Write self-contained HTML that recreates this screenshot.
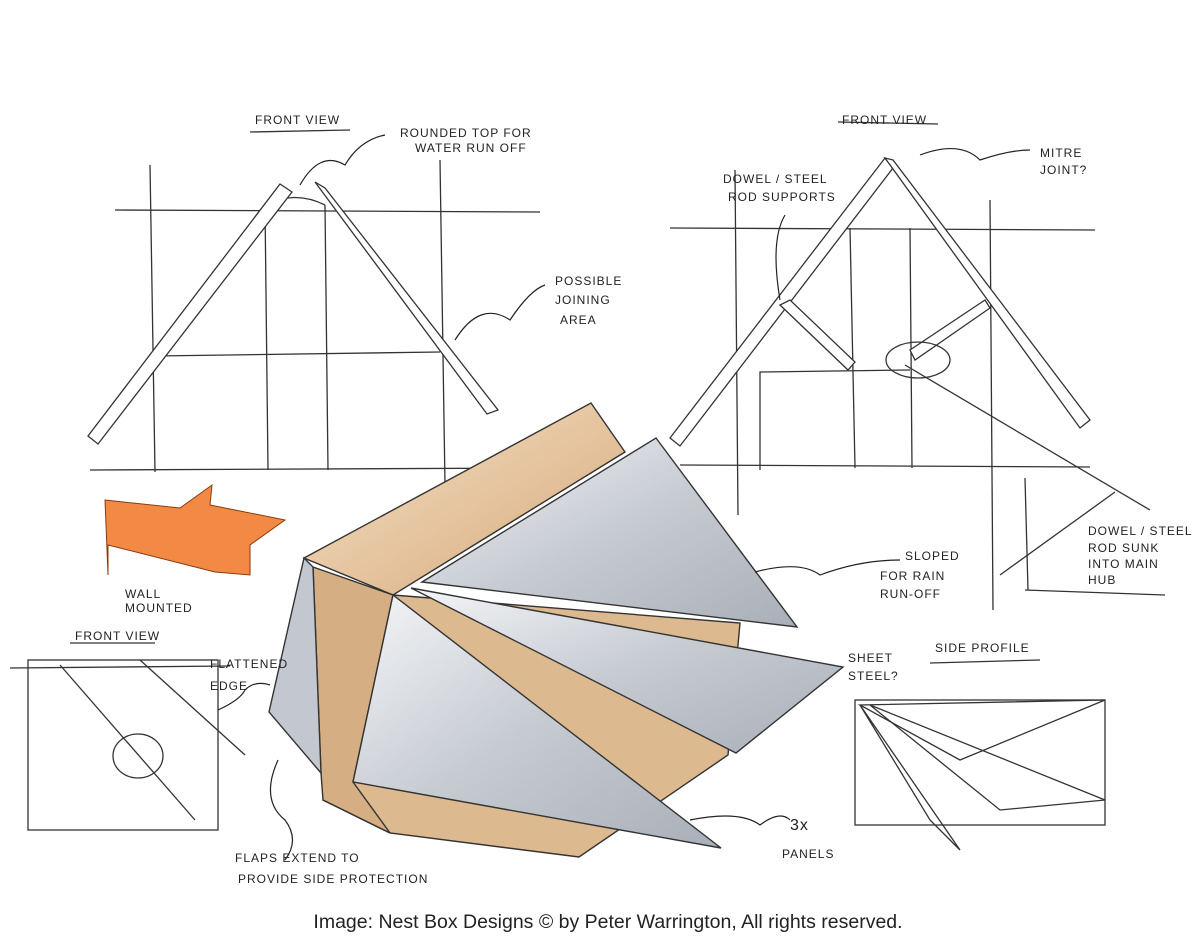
<!DOCTYPE html>
<html><head><meta charset="utf-8"><style>
html,body{margin:0;padding:0;background:#fff;}
svg{display:block;}
.t{font-family:"Liberation Sans",sans-serif;font-size:12px;fill:#222;letter-spacing:1px;}
</style></head><body>
<svg width="1200" height="948" viewBox="0 0 1200 948" xmlns="http://www.w3.org/2000/svg">
<defs>
<linearGradient id="g" x1="0" y1="0" x2="1" y2="1"><stop offset="0" stop-color="#f4f5f7"/><stop offset="0.5" stop-color="#c6cbd2"/><stop offset="1" stop-color="#a9afb8"/></linearGradient>
<linearGradient id="b" x1="0" y1="0" x2="1" y2="1"><stop offset="0" stop-color="#f6e2c8"/><stop offset="1" stop-color="#d6a97a"/></linearGradient>
</defs>
<g stroke="#333" stroke-width="1.3" fill="none">
<line x1="115" y1="210" x2="540" y2="212"/>
<line x1="90" y1="470" x2="530" y2="468"/>
<line x1="150" y1="165" x2="155" y2="472"/>
<line x1="440" y1="160" x2="445" y2="485"/>
<line x1="155" y1="356" x2="440" y2="352"/>
<line x1="265" y1="205" x2="268" y2="470"/>
<line x1="325" y1="205" x2="328" y2="470"/>
<path d="M265 205 Q295 190 325 205"/>
<polygon points="280,184 292,192 98,444 88,436" fill="#fff"/>
<polygon points="315,182 325,188 498,410 487,414" fill="#fff"/>
<line x1="250" y1="132" x2="350" y2="130"/>
<line x1="670" y1="228" x2="1095" y2="230"/>
<line x1="680" y1="465" x2="1090" y2="467"/>
<line x1="735" y1="170" x2="738" y2="515"/>
<line x1="990" y1="200" x2="993" y2="610"/>
<polyline points="760,470 760,372 910,370"/>
<line x1="850" y1="228" x2="855" y2="468"/>
<line x1="910" y1="228" x2="912" y2="468"/>
<polygon points="885,158 893,168 680,446 670,438" fill="#fff"/>
<polygon points="885,158 893,160 1090,420 1080,428" fill="#fff"/>
<polygon points="780,305 790,300 855,362 848,370" fill="#fff"/>
<polygon points="910,350 985,300 990,308 915,360" fill="#fff"/>
<ellipse cx="918" cy="360" rx="32" ry="18"/>
<line x1="905" y1="365" x2="1150" y2="510"/>
<line x1="1025" y1="478" x2="1028" y2="590"/>
<line x1="1025" y1="590" x2="1165" y2="595"/>
<line x1="1000" y1="575" x2="1115" y2="492"/>
<line x1="838" y1="122" x2="938" y2="124"/>
<rect x="28" y="660" width="190" height="170"/>
<line x1="10" y1="668" x2="230" y2="666"/>
<line x1="60" y1="665" x2="195" y2="820"/>
<line x1="140" y1="660" x2="245" y2="755"/>
<ellipse cx="138" cy="756" rx="25" ry="22"/>
<line x1="70" y1="643" x2="155" y2="643"/>
<rect x="855" y="700" width="250" height="125"/>
<polygon points="860,705 1105,700 960,760"/>
<polygon points="870,705 1105,800 1000,810" />
<polygon points="860,705 960,850 930,820" />
<line x1="930" y1="663" x2="1040" y2="660"/>
</g>
<polygon points="105,500 180,508 212,485 210,505 285,520 250,545 250,575 215,572 108,545 108,575" fill="#f28a45" stroke="#8a3a10"/>
<g stroke="#333" stroke-width="1.4">
<polygon points="393,595 740,623 728,755 579,857 390,833 323,800" fill="#ddb98f"/>
<polygon points="304,558 591,403 625,452 393,595" fill="url(#b)"/>
<polygon points="313,567 393,595 353,782 390,833 323,800 321,773" fill="#d6ae84"/>
<polygon points="304,558 313,567 321,773 269,712" fill="#c3c8d0"/>
<polygon points="422,582 656,438 797,627" fill="url(#g)"/>
<polygon points="411,588 843,667 736,753" fill="url(#g)"/>
<polygon points="393,595 353,782 721,848" fill="url(#g)"/>
</g>
<g stroke="#222" stroke-width="1.2" fill="none">
<path d="M300 185 Q320 150 345 165 Q360 140 385 135"/>
<path d="M455 340 Q480 300 510 320 Q530 290 545 285"/>
<path d="M920 155 Q960 140 980 160 Q1010 150 1030 150"/>
<path d="M780 300 Q770 240 785 215"/>
<path d="M755 572 Q800 560 820 575 Q860 560 900 560"/>
<path d="M690 820 Q740 810 760 825 Q780 810 790 820"/>
<path d="M278 760 Q260 800 285 820 Q300 840 285 860"/>
<path d="M218 710 Q240 700 245 690 Q255 680 270 685"/>
</g>
<g class="t">
<text x="255" y="124">FRONT VIEW</text>
<text x="400" y="137">ROUNDED TOP FOR</text><text x="415" y="152">WATER RUN OFF</text>
<text x="555" y="285">POSSIBLE</text><text x="555" y="304">JOINING</text><text x="560" y="324">AREA</text>
<text x="842" y="124">FRONT VIEW</text>
<text x="1040" y="157">MITRE</text><text x="1040" y="174">JOINT?</text>
<text x="723" y="183">DOWEL / STEEL</text><text x="728" y="201">ROD SUPPORTS</text>
<text x="1088" y="535">DOWEL / STEEL</text><text x="1088" y="552">ROD SUNK</text><text x="1088" y="568">INTO MAIN</text><text x="1088" y="584">HUB</text>
<text x="905" y="560">SLOPED</text><text x="880" y="580">FOR RAIN</text><text x="880" y="598">RUN-OFF</text>
<text x="848" y="662">SHEET</text><text x="848" y="680">STEEL?</text>
<text x="935" y="652">SIDE PROFILE</text>
<text x="125" y="598">WALL</text><text x="125" y="612">MOUNTED</text>
<text x="75" y="640">FRONT VIEW</text>
<text x="210" y="668">FLATTENED</text><text x="210" y="690">EDGE</text>
<text x="235" y="862">FLAPS EXTEND TO</text><text x="238" y="883">PROVIDE SIDE PROTECTION</text>
<text x="790" y="830" style="font-size:16px">3x</text><text x="782" y="858">PANELS</text>
</g>
<text x="608" y="928" text-anchor="middle" font-family="Liberation Sans, sans-serif" font-size="19.5" fill="#222">Image: Nest Box Designs © by Peter Warrington, All rights reserved.</text>
</svg>
</body></html>
